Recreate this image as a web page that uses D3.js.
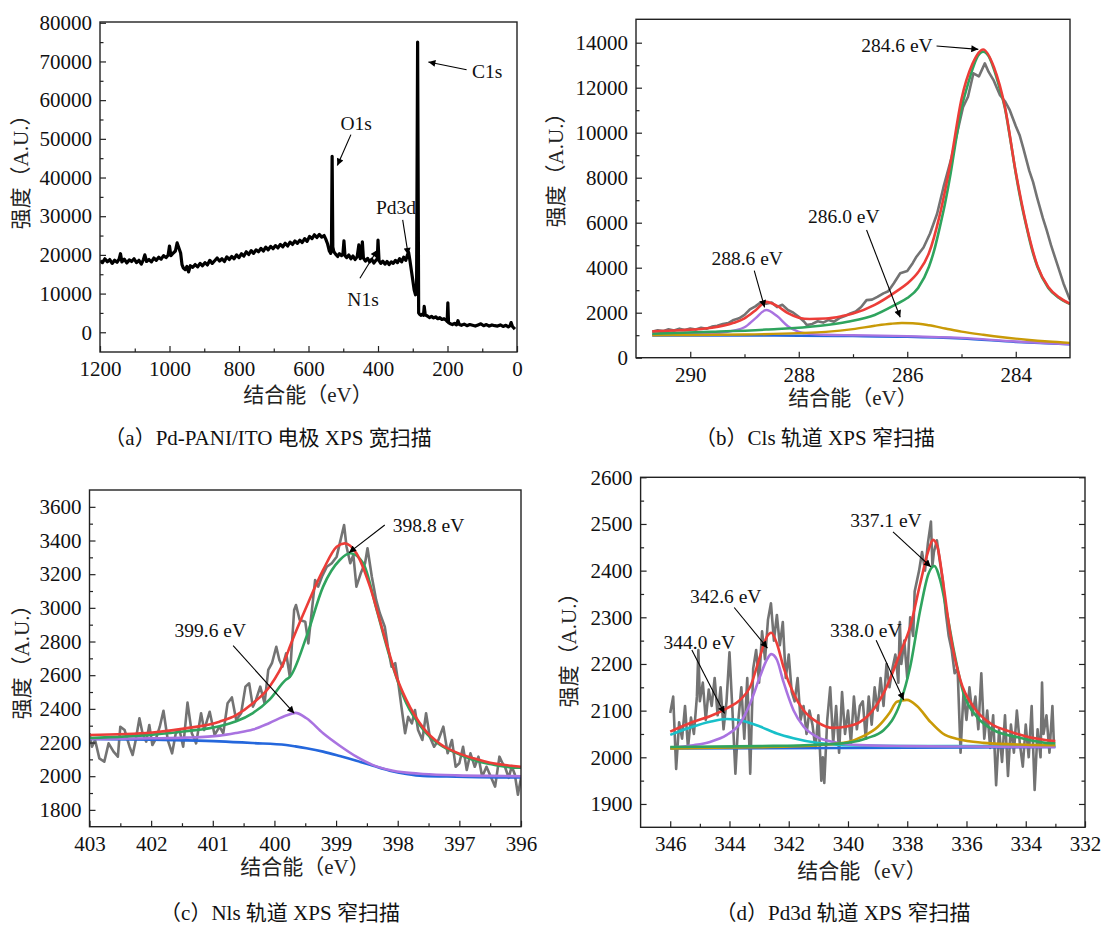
<!DOCTYPE html>
<html>
<head>
<meta charset="utf-8">
<script src="https://cdn.jsdelivr.net/npm/d3@7"></script>
<style>
  body { margin: 0; background: #fff; }
  svg text { font-family: 'Liberation Serif', 'Noto Sans CJK SC', serif; }
</style>
</head>
<body>
<script>
// ---------- data (binding energy eV, intensity) ----------
const surveyData = [[1200,18500],[1193,18000],[1186,19000],[1179,18200],[1172,18800],[1165,17800],[1158,18600],[1151,18100],[1145,18900],[1141,20300],[1137,18200],[1130,18900],[1123,17900],[1116,18700],[1109,18300],[1102,19000],[1095,18000],[1088,18600],[1081,17600],[1075,18800],[1071,20000],[1066,18300],[1059,18800],[1052,18200],[1045,19200],[1038,18600],[1031,19400],[1024,18900],[1017,19800],[1010,19300],[1004,19900],[1000,22300],[996,19800],[989,20500],[983,21000],[978,23100],[973,21800],[968,20500],[964,17500],[960,16600],[955,16200],[950,17000],[945,15600],[940,17200],[933,16800],[926,17500],[919,16900],[912,17800],[905,17200],[898,18000],[891,17400],[884,18600],[877,17800],[870,18500],[863,19200],[856,18400],[849,19000],[842,18300],[835,19500],[828,18800],[821,19600],[814,19000],[807,20000],[800,19300],[793,20300],[786,19700],[779,20800],[772,20100],[765,21100],[758,20400],[751,21300],[744,20800],[737,21700],[730,21000],[723,22000],[716,21300],[709,22200],[702,21600],[695,22400],[688,21800],[681,22700],[674,22100],[667,23000],[660,22300],[653,23300],[646,22700],[639,23600],[632,23000],[625,23800],[618,23200],[611,24200],[604,23500],[597,24800],[590,24200],[583,25200],[576,24500],[569,25300],[562,24600],[555,25000],[550,24000],[545,22800],[540,21000],[536,20400],[534,21500],[532,45500],[530,22000],[527,20800],[522,20200],[516,19600],[511,20300],[505,19800],[501,20200],[498,23600],[495,19800],[490,19300],[484,20000],[478,19000],[472,19700],[466,18800],[460,19500],[455,22600],[451,19000],[447,20000],[445,23400],[442,19200],[436,18400],[430,19100],[424,18200],[418,18900],[412,17900],[406,18600],[402,19000],[400,23800],[397,18500],[392,17800],[386,18400],[380,17600],[374,18300],[368,17500],[362,18200],[356,17800],[350,18600],[344,18000],[338,19000],[332,18200],[326,19400],[320,18600],[316,19800],[312,20700],[308,18500],[304,16000],[300,13500],[296,11000],[292,9700],[289,11500],[286,75000],[283,5000],[280,4600],[276,4400],[272,4700],[269,4400],[267,6700],[264,4500],[258,4200],[252,3800],[246,4100],[240,3700],[234,4000],[228,3500],[222,3800],[216,3300],[210,3500],[204,3100],[201,2800],[199,7600],[197,2500],[192,2200],[186,2000],[180,2300],[174,1900],[170,3000],[166,2000],[160,1800],[152,2100],[144,1700],[136,2000],[128,1800],[120,1600],[112,1900],[104,2200],[96,1700],[88,2000],[80,1600],[72,1900],[64,1700],[56,1600],[48,1900],[40,1500],[32,1800],[25,1400],[20,1700],[17,2500],[13,1500],[9,1100],[6,800]];

const c1sRaw = [[290.70,1150],[290.60,1220],[290.50,1180],[290.40,1260],[290.30,1210],[290.20,1290],[290.10,1230],[290.00,1300],[289.90,1250],[289.80,1330],[289.70,1290],[289.60,1380],[289.50,1420],[289.40,1500],[289.30,1540],[289.20,1680],[289.10,1750],[289.00,1900],[288.90,2150],[288.80,2280],[288.70,2460],[288.60,2400],[288.50,2450],[288.40,2250],[288.30,2350],[288.20,2120],[288.10,2000],[288.00,1820],[287.90,1600],[287.85,1450],[287.75,1500],[287.65,1620],[287.55,1560],[287.45,1680],[287.35,1600],[287.25,1760],[287.15,1850],[287.05,1970],[286.95,2050],[286.85,2250],[286.75,2560],[286.65,2580],[286.55,2700],[286.44,2860],[286.35,2950],[286.25,3300],[286.13,3750],[286.00,3850],[285.90,4200],[285.83,4490],[285.70,4900],[285.58,5520],[285.45,6400],[285.33,7600],[285.18,8930],[285.07,10100],[284.97,11150],[284.88,11600],[284.78,12640],[284.68,12500],[284.57,13080],[284.50,12700],[284.41,12340],[284.35,12000],[284.29,11670],[284.20,11400],[284.11,11000],[284.00,10300],[283.93,9900],[283.86,9300],[283.75,8300],[283.68,7800],[283.61,7150],[283.50,6200],[283.43,5670],[283.35,5000],[283.24,4190],[283.12,3300],[283.00,2560]];
const c1sEnvelope = [[290.7,1170],[290.2,1220],[289.6,1330],[289.2,1550],[289.0,1750],[288.8,2100],[288.6,2480],[288.4,2300],[288.2,1980],[288.0,1780],[287.8,1720],[287.5,1740],[287.2,1850],[287.0,1960],[286.6,2350],[286.2,2950],[286.0,3300],[285.8,3800],[285.6,4650],[285.4,6350],[285.2,8700],[285.0,11500],[284.8,13050],[284.6,13700],[284.4,12900],[284.2,11150],[284.0,8250],[283.8,5850],[283.6,4080],[283.4,3140],[283.2,2680],[283.0,2400]];
const c1sPeak2846 = [[290.7,1070],[289.6,1150],[288.6,1250],[287.6,1420],[287.1,1600],[286.6,1900],[286.2,2380],[286.0,2650],[285.8,3100],[285.6,4040],[285.5,4800],[285.4,5800],[285.3,6900],[285.2,8200],[285.1,9700],[285.0,11100],[284.9,12000],[284.8,12800],[284.7,13400],[284.6,13600],[284.5,13400],[284.4,12800],[284.3,12000],[284.2,11100],[284.1,9700],[284.0,8200],[283.9,6900],[283.8,5800],[283.7,4800],[283.6,4040],[283.4,3100],[283.2,2650],[283.0,2380]];
const c1sPeak2886 = [[290.7,1040],[290.0,1060],[289.5,1100],[289.2,1200],[289.0,1350],[288.8,1750],[288.6,2120],[288.4,1850],[288.2,1400],[288.0,1150],[287.8,1060],[287.5,1020],[287.0,1000],[286.0,960],[285.0,880],[284.0,720],[283.0,600]];
const c1sPeak2860 = [[290.7,1000],[290.0,1010],[289.0,1030],[288.0,1090],[287.5,1150],[287.0,1270],[286.6,1420],[286.3,1510],[286.1,1540],[285.9,1530],[285.6,1440],[285.3,1300],[285.0,1160],[284.6,1020],[284.2,900],[283.8,800],[283.4,720],[283.0,660]];
const c1sBackground = [[290.7,990],[289.0,985],[288.0,975],[287.0,960],[286.0,930],[285.0,850],[284.0,700],[283.0,590]];

const n1sRaw = [[403.0,2255],[402.96,2175],[402.91,2215],[402.84,2106],[402.76,2086],[402.69,2195],[402.61,2146],[402.54,2116],[402.50,2294],[402.43,2274],[402.35,2175],[402.30,2126],[402.25,2215],[402.19,2344],[402.14,2255],[402.08,2205],[402.03,2304],[401.98,2185],[401.92,2225],[401.86,2294],[401.80,2389],[401.73,2215],[401.66,2136],[401.60,2255],[401.54,2274],[401.48,2175],[401.41,2437],[401.34,2255],[401.27,2195],[401.19,2374],[401.14,2274],[401.05,2383],[400.97,2245],[400.89,2294],[400.83,2255],[400.76,2433],[400.69,2468],[400.62,2334],[400.54,2374],[400.47,2532],[400.41,2552],[400.35,2413],[400.30,2453],[400.23,2532],[400.16,2433],[400.10,2631],[400.04,2671],[399.97,2769],[399.92,2690],[399.87,2650],[399.81,2730],[399.75,2591],[399.68,2987],[399.65,3017],[399.59,2928],[399.50,2918],[399.45,2789],[399.34,3165],[399.29,3126],[399.23,3185],[399.15,3244],[399.07,3265],[398.99,3304],[398.94,3383],[398.87,3492],[398.83,3363],[398.77,3265],[398.72,3314],[398.67,3126],[398.60,3205],[398.53,3265],[398.49,3354],[398.42,3185],[398.35,3047],[398.29,2968],[398.21,2888],[398.16,2769],[398.10,2650],[398.04,2671],[397.99,2552],[397.94,2413],[397.88,2255],[397.83,2353],[397.77,2314],[397.72,2393],[397.67,2274],[397.60,2215],[397.54,2374],[397.48,2235],[397.41,2175],[397.34,2215],[397.26,2294],[397.19,2136],[397.12,2215],[397.06,2056],[397.00,2077],[396.94,2175],[396.88,2037],[396.82,2136],[396.75,2056],[396.69,2116],[396.63,1997],[396.56,2056],[396.49,1997],[396.42,1938],[396.35,2116],[396.30,2077],[396.26,2056],[396.20,1990],[396.15,2060],[396.10,2010],[396.05,1890],[396.0,1990]];
const n1sEnvelope = [[403.0,2245],[401.98,2260],[401.44,2284],[400.89,2324],[400.62,2363],[400.35,2433],[400.08,2532],[399.81,2710],[399.75,2769],[399.48,3007],[399.21,3225],[398.99,3363],[398.86,3383],[398.67,3324],[398.45,3126],[398.23,2849],[398.02,2591],[397.86,2453],[397.58,2284],[397.31,2191],[397.04,2140],[396.77,2106],[396.50,2080],[396.26,2066],[396.0,2056]];
const n1sPeak3988 = [[403.0,2227],[401.98,2247],[401.44,2267],[400.89,2297],[400.62,2326],[400.35,2375],[400.08,2455],[399.81,2574],[399.75,2590],[399.48,2829],[399.21,3126],[398.94,3284],[398.77,3324],[398.56,3265],[398.34,2987],[398.13,2710],[397.86,2433],[397.58,2274],[397.31,2185],[397.04,2136],[396.77,2096],[396.50,2072],[396.26,2056],[396.0,2050]];
const n1sPeak3996 = [[403.0,2221],[401.98,2225],[401.44,2229],[400.89,2241],[400.62,2257],[400.35,2277],[400.08,2316],[399.81,2360],[399.66,2376],[399.48,2344],[399.21,2255],[398.94,2181],[398.67,2116],[398.40,2066],[398.13,2037],[397.86,2021],[397.59,2013],[397.05,2005],[396.26,2001],[396.0,2000]];
const n1sBackground = [[403.0,2221],[401.98,2217],[401.44,2213],[400.89,2207],[400.35,2197],[399.81,2185],[399.66,2177],[399.48,2166],[399.21,2146],[398.94,2120],[398.67,2092],[398.40,2062],[398.13,2033],[397.86,2013],[397.59,2001],[397.05,1997],[396.26,1993],[396.0,1993]];

const pd3dRaw = [[346.0,2095],[345.9,2130],[345.8,1975],[345.7,2075],[345.6,2040],[345.5,2110],[345.4,2020],[345.3,2085],[345.2,2050],[345.1,2130],[345.05,2230],[345.0,2120],[344.9,2160],[344.8,2080],[344.7,2145],[344.6,2110],[344.5,2170],[344.4,2090],[344.3,2150],[344.2,2060],[344.1,2120],[344.0,2225],[343.9,2100],[343.8,1965],[343.7,2080],[343.6,2150],[343.5,2040],[343.4,2170],[343.3,1965],[343.2,2190],[343.1,2230],[343.0,2160],[342.9,2270],[342.8,2210],[342.7,2295],[342.6,2330],[342.5,2250],[342.4,2305],[342.3,2240],[342.2,2290],[342.1,2170],[342.0,2220],[341.9,2140],[341.8,2120],[341.7,2170],[341.6,2080],[341.5,2110],[341.4,2050],[341.3,2100],[341.2,2070],[341.1,2020],[341.0,2090],[340.9,1950],[340.85,2000],[340.8,1945],[340.7,2080],[340.6,2150],[340.5,2030],[340.4,2110],[340.3,2010],[340.2,2140],[340.1,2050],[340.0,2100],[339.9,2030],[339.8,2130],[339.7,2060],[339.6,2110],[339.5,2120],[339.4,2040],[339.3,2130],[339.2,2070],[339.1,2150],[339.0,2100],[338.9,2170],[338.8,2110],[338.7,2200],[338.6,2150],[338.5,2190],[338.4,2220],[338.3,2160],[338.25,2290],[338.2,2200],[338.1,2250],[338.0,2170],[337.9,2300],[337.8,2260],[337.75,2355],[337.6,2400],[337.5,2440],[337.4,2400],[337.3,2460],[337.2,2505],[337.15,2410],[337.1,2440],[337.0,2465],[336.9,2420],[336.8,2380],[336.7,2310],[336.6,2260],[336.5,2230],[336.4,2180],[336.3,2190],[336.2,2010],[336.1,2140],[336.0,2080],[335.9,2150],[335.8,2090],[335.7,2130],[335.6,2060],[335.5,2180],[335.4,2040],[335.3,2100],[335.2,2020],[335.1,2090],[335.0,1940],[334.9,2060],[334.8,1990],[334.7,2090],[334.6,1960],[334.5,2070],[334.4,2010],[334.3,2100],[334.2,2030],[334.1,1980],[334.0,2070],[333.9,2000],[333.8,2110],[333.7,1930],[333.6,2060],[333.5,2000],[333.45,2160],[333.4,2050],[333.3,2090],[333.2,2010],[333.1,2110],[333.05,2030]];
const pd3dEnvelope = [[346.0,2055],[345.22,2076],[344.66,2088],[344.09,2105],[343.64,2123],[343.30,2151],[342.97,2216],[342.74,2258],[342.59,2267],[342.40,2244],[342.18,2194],[341.84,2137],[341.50,2101],[341.05,2076],[340.49,2063],[340.04,2066],[339.59,2076],[339.36,2087],[338.80,2137],[338.24,2223],[337.90,2280],[337.56,2373],[337.28,2444],[337.13,2466],[336.98,2451],[336.77,2366],[336.55,2266],[336.21,2166],[335.76,2108],[335.20,2073],[334.52,2055],[333.34,2037],[333.0,2035]];
const pd3dPeak3371 = [[346.0,2022],[343.0,2024],[341.0,2027],[340.0,2031],[339.36,2041],[338.80,2058],[338.24,2116],[337.90,2194],[337.56,2316],[337.28,2394],[337.09,2410],[336.89,2380],[336.66,2309],[336.43,2230],[336.10,2137],[335.65,2087],[335.08,2058],[334.29,2043],[333.34,2031],[333.0,2030]];
const pd3dPeak3380 = [[346.0,2019],[344.0,2021],[342.0,2023],[341.0,2026],[340.0,2033],[339.5,2045],[339.0,2065],[338.6,2095],[338.35,2119],[338.01,2123],[337.67,2110],[337.22,2076],[336.8,2051],[336.3,2039],[335.42,2031],[334.0,2027],[333.0,2026]];
const pd3dPeak3426 = [[346.0,2021],[345.22,2026],[344.66,2033],[344.09,2048],[343.64,2073],[343.30,2116],[342.97,2173],[342.74,2209],[342.59,2221],[342.40,2209],[342.18,2162],[341.84,2101],[341.50,2066],[341.05,2044],[340.49,2033],[339.59,2026],[338.0,2024],[336.0,2023],[333.0,2022]];
const pd3dPeak3440 = [[346.0,2048],[345.22,2066],[344.66,2076],[344.09,2082],[343.53,2078],[342.97,2066],[342.40,2051],[341.84,2041],[341.05,2031],[340.15,2026],[338.0,2024],[336.0,2024],[333.0,2024]];
const pd3dBackground = [[346.0,2019],[340.0,2020],[336.0,2021],[333.0,2022]];

const captions = ['（a）Pd-PANI/ITO 电极 XPS 宽扫描', '（b）Cls 轨道 XPS 窄扫描', '（c）Nls 轨道 XPS 窄扫描', '（d）Pd3d 轨道 XPS 窄扫描'];
const xTitle = '结合能（eV）';
const yTitle = '强度（A.U.）';

// ---------- drawing ----------
const FONT = "'Liberation Serif', 'Noto Sans CJK SC', serif";
const C = { gray: '#737373', red: '#ec3d38', green: '#2fa45e', purple: '#a973e0', gold: '#c99a07', blue: '#2467dc', cyan: '#18c0c9' };

const svg = d3.select('body').append('svg')
  .attr('width', 1104).attr('height', 926);

svg.append('defs').append('marker')
  .attr('id', 'arrow')
  .attr('viewBox', '0 0 10 10').attr('refX', 10).attr('refY', 5)
  .attr('markerUnits', 'userSpaceOnUse')
  .attr('markerWidth', 10).attr('markerHeight', 7)
  .attr('orient', 'auto')
  .append('path').attr('d', 'M0,0L10,5L0,10z').attr('fill', '#000');

const panels = [
  {
    id: 'a', left: 100, right: 517, top: 22, bottom: 352,
    xDomain: [1200, 0], yDomain: [-5100, 80200],
    xTicks: d3.range(1200, -1, -200), xMinor: d3.range(1100, 0, -200),
    yTicks: d3.range(0, 80001, 10000), yMinor: d3.range(5000, 80000, 10000),
    xTitlePos: [308, 395], yTitlePos: [21, 167], captionPos: [268, 438],
    series: [{ data: surveyData, color: '#000', width: 3.2 }],
    notes: [
      { text: 'C1s', at: [86, 67400], from: [145, 67860], to: [255, 69850] },
      { text: 'O1s', at: [463, 53900], from: [478, 51090], to: [517, 43100] },
      { text: 'Pd3d', at: [348, 32340], from: [329, 29050], to: [313, 20000] },
      { text: 'N1s', at: [443, 8540], from: [452, 13970], to: [402, 21290] }
    ]
  },
  {
    id: 'b', left: 636, right: 1070, top: 19.3, bottom: 357.7,
    xDomain: [291, 283], yDomain: [0, 15040],
    xTicks: [290, 288, 286, 284], xMinor: [289, 287, 285],
    yTicks: d3.range(0, 14001, 2000), yMinor: d3.range(1000, 14000, 2000),
    xTitlePos: [853, 398], yTitlePos: [556, 165], captionPos: [815, 438],
    series: [
      { data: c1sRaw, color: C.gray, width: 2.6 },
      { data: c1sBackground, color: C.blue, width: 2.4, smooth: true },
      { data: c1sPeak2886, color: C.purple, width: 2.4, smooth: true },
      { data: c1sPeak2860, color: C.gold, width: 2.4, smooth: true },
      { data: c1sPeak2846, color: C.green, width: 2.6, smooth: true },
      { data: c1sEnvelope, color: C.red, width: 2.6, smooth: true }
    ],
    notes: [
      { text: '284.6 eV', at: [286.19, 13897], from: [285.46, 13852], to: [284.69, 13705] },
      { text: '286.0 eV', at: [287.17, 6266], from: [286.75, 5675], to: [286.13, 1795] },
      { text: '288.6 eV', at: [288.95, 4417], from: [288.82, 3866], to: [288.63, 2240] }
    ]
  },
  {
    id: 'c', left: 89.5, right: 521, top: 490, bottom: 826.7,
    xDomain: [403, 396], yDomain: [1700, 3700],
    xTicks: d3.range(403, 395.9, -1), xMinor: d3.range(402.5, 396, -1),
    yTicks: d3.range(1800, 3601, 200), yMinor: d3.range(1900, 3600, 200),
    xTitlePos: [305, 867], yTitlePos: [22, 657], captionPos: [280, 913],
    series: [
      { data: n1sRaw, color: C.gray, width: 2.6 },
      { data: n1sBackground, color: C.blue, width: 2.6, smooth: true },
      { data: n1sPeak3996, color: C.purple, width: 2.6, smooth: true },
      { data: n1sPeak3988, color: C.green, width: 2.6, smooth: true },
      { data: n1sEnvelope, color: C.red, width: 2.6, smooth: true }
    ],
    notes: [
      { text: '398.8 eV', at: [397.50, 3492], from: [398.21, 3492], to: [398.79, 3328] },
      { text: '399.6 eV', at: [401.04, 2864], from: [400.67, 2775], to: [399.68, 2374] }
    ]
  },
  {
    id: 'd', left: 640.6, right: 1085, top: 477.3, bottom: 827.3,
    xDomain: [347, 332], yDomain: [1850, 2600],
    xTicks: d3.range(346, 331.9, -2), xMinor: d3.range(345, 332, -2),
    yTicks: d3.range(1900, 2601, 100), yMinor: d3.range(1950, 2600, 100),
    rightTicks: true,
    xTitlePos: [862, 871], yTitlePos: [569, 645], captionPos: [843, 913],
    series: [
      { data: pd3dRaw, color: C.gray, width: 2.6 },
      { data: pd3dBackground, color: C.blue, width: 2.4, smooth: true },
      { data: pd3dPeak3440, color: C.cyan, width: 2.6, smooth: true },
      { data: pd3dPeak3426, color: C.purple, width: 2.6, smooth: true },
      { data: pd3dPeak3380, color: C.gold, width: 2.6, smooth: true },
      { data: pd3dPeak3371, color: C.green, width: 2.6, smooth: true },
      { data: pd3dEnvelope, color: C.red, width: 2.6, smooth: true }
    ],
    notes: [
      { text: '342.6 eV', at: [344.13, 2344], from: [343.84, 2321], to: [342.72, 2234] },
      { text: '344.0 eV', at: [345.02, 2246], from: [345.27, 2230], to: [344.17, 2094] },
      { text: '337.1 eV', at: [338.72, 2507], from: [338.48, 2483], to: [337.20, 2408] },
      { text: '338.0 eV', at: [339.40, 2271], from: [339.05, 2251], to: [338.12, 2123] }
    ]
  }
];

function styleAxis(sel, showText) {
  sel.select('.domain').remove();
  sel.attr('font-family', null).attr('font-size', null);
  sel.selectAll('line').attr('stroke', '#222').attr('stroke-width', 1.2);
  sel.selectAll('text')
    .style('font-family', FONT)
    .style('font-size', '21px')
    .attr('fill', '#111');
  if (!showText) sel.selectAll('text').remove();
}

function label(g, x, y, text, size) {
  return g.append('text')
    .attr('x', x).attr('y', y)
    .attr('text-anchor', 'middle').attr('dominant-baseline', 'central')
    .style('font-family', FONT).style('font-size', size + 'px')
    .attr('fill', '#111')
    .text(text);
}

function drawPanel(p, i) {
  const x = d3.scaleLinear().domain(p.xDomain).range([p.left, p.right]);
  const y = d3.scaleLinear().domain(p.yDomain).range([p.bottom, p.top]);
  const g = svg.append('g').attr('class', 'panel-' + p.id);

  svg.select('defs').append('clipPath').attr('id', 'clip-' + p.id)
    .append('rect')
    .attr('x', p.left).attr('y', p.top)
    .attr('width', p.right - p.left).attr('height', p.bottom - p.top);

  const plot = g.append('g').attr('clip-path', `url(#clip-${p.id})`);
  p.series.forEach(s => {
    const line = d3.line()
      .x(d => x(d[0]))
      .y(d => y(d[1]))
      .curve(s.smooth ? d3.curveMonotoneX : d3.curveLinear);
    plot.append('path')
      .datum(s.data)
      .attr('d', line)
      .attr('fill', 'none')
      .attr('stroke', s.color)
      .attr('stroke-width', s.width)
      .attr('stroke-linejoin', 'round');
  });

  // frame
  g.append('rect')
    .attr('x', p.left).attr('y', p.top)
    .attr('width', p.right - p.left).attr('height', p.bottom - p.top)
    .attr('fill', 'none').attr('stroke', '#222').attr('stroke-width', 1.4);

  // axes, ticks pointing inward
  g.append('g').attr('transform', `translate(0,${p.bottom})`)
    .call(d3.axisBottom(x).tickValues(p.xTicks).tickSize(-6).tickPadding(9).tickFormat(d3.format('d')))
    .call(a => styleAxis(a, true));
  g.append('g').attr('transform', `translate(0,${p.bottom})`)
    .call(d3.axisBottom(x).tickValues(p.xMinor).tickSize(-3.5))
    .call(a => styleAxis(a, false));
  g.append('g').attr('transform', `translate(${p.left},0)`)
    .call(d3.axisLeft(y).tickValues(p.yTicks).tickSize(-6).tickPadding(8).tickFormat(d3.format('d')))
    .call(a => styleAxis(a, true));
  g.append('g').attr('transform', `translate(${p.left},0)`)
    .call(d3.axisLeft(y).tickValues(p.yMinor).tickSize(-3.5))
    .call(a => styleAxis(a, false));
  if (p.rightTicks) {
    g.append('g').attr('transform', `translate(${p.right},0)`)
      .call(d3.axisRight(y).tickValues(p.yTicks).tickSize(-6))
      .call(a => styleAxis(a, false));
    g.append('g').attr('transform', `translate(${p.right},0)`)
      .call(d3.axisRight(y).tickValues(p.yMinor).tickSize(-3.5))
      .call(a => styleAxis(a, false));
  }

  // titles
  label(g, p.xTitlePos[0], p.xTitlePos[1], xTitle, 21).attr('fill', '#222');
  label(g, 0, 0, yTitle, 21).attr('fill', '#222')
    .attr('transform', `translate(${p.yTitlePos[0]},${p.yTitlePos[1]}) rotate(-90)`);
  label(g, p.captionPos[0], p.captionPos[1], captions[i], 21);

  // peak labels with arrows
  p.notes.forEach(n => {
    g.append('line')
      .attr('x1', x(n.from[0])).attr('y1', y(n.from[1]))
      .attr('x2', x(n.to[0])).attr('y2', y(n.to[1]))
      .attr('stroke', '#000').attr('stroke-width', 1.1)
      .attr('marker-end', 'url(#arrow)');
    label(g, x(n.at[0]), y(n.at[1]), n.text, 19.5);
  });
}

panels.forEach(drawPanel);
</script>
</body>
</html>
